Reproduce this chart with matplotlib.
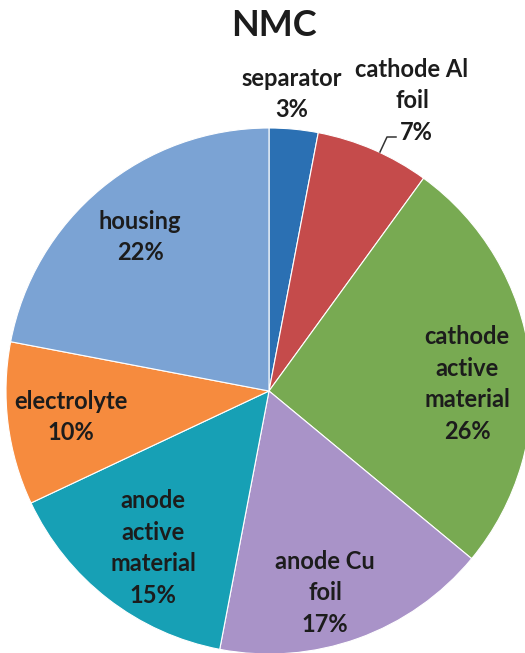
import matplotlib
matplotlib.use("Agg")
import matplotlib.pyplot as plt

# NMC cell mass breakdown, clockwise from 12 o'clock
parts = ["separator", "cathode Al\nfoil", "cathode\nactive\nmaterial", "anode Cu\nfoil",
         "anode\nactive\nmaterial", "electrolyte", "housing"]
shares = [3, 7, 26, 17, 15, 10, 22]
colors = ["#2b70b3", "#c54b4b", "#78aa52", "#a993c8", "#17a0b5", "#f68b3e", "#7ba3d4"]

# label anchor points (pixels from top-left)
label_xy = [(292, 94), (412, 85), (467, 384), (325, 593), (153, 548), (71, 417), (140, 237)]

W, H = 525, 653
fig = plt.figure(figsize=(W / 100, H / 100), dpi=100)
ax = fig.add_axes([0, 0, 1, 1])

cx, cy, r = 269, 391, 263
ax.pie(shares, colors=colors, startangle=90, counterclock=False,
       center=(cx, H - cy), radius=r, frame=True,
       wedgeprops=dict(edgecolor="white", linewidth=0.8))
ax.set_xlim(0, W)
ax.set_ylim(0, H)
ax.set_aspect("equal")
ax.axis("off")

font = dict(family=["Lato", "DejaVu Sans"], fontweight="bold", color="#1c1c1c")
fs = 17
ls = 1.45

for name, val, (x, y) in zip(parts, shares, label_xy):
    if val == 7:
        # small slice: percentage sits outside with a leader line
        ax.text(x, H - y, name, ha="center", va="center", fontsize=fs, linespacing=ls, **font)
        ax.text(x + 4, H - 132, f"{val}%", ha="center", va="center", fontsize=fs, **font)
        ax.plot([380, 387, 396], [H - 152, H - 137, H - 137], color="#333333", lw=1.1)
    else:
        ax.text(x, H - y, f"{name}\n{val}%", ha="center", va="center",
                fontsize=fs, linespacing=ls, **font)

ax.text(274, H - 25, "NMC", ha="center", va="center", fontsize=26, **font)

fig.savefig("out.png", dpi=100)
